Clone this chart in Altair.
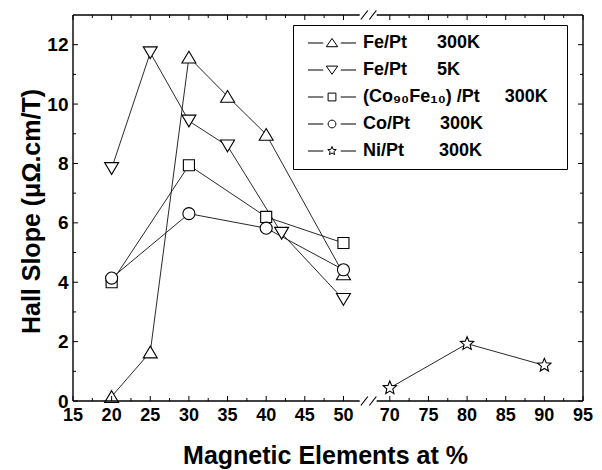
import altair as alt
import pandas as pd
import math

NB = "\u00a0"
ZW = "\u200b"
series = [
    "Fe/Pt" + NB * 6 + "300K",
    "Fe/Pt" + NB * 6 + "5K",
    "(Co₉₀Fe₁₀)" + NB + "/Pt" + NB * 5 + "300K" + NB * 2 + ZW,
    "Co/Pt" + NB * 6 + "300K",
    "Ni/Pt" + NB * 7 + "300K",
]

fept300_x = [20, 25, 30, 35, 40, 50]
fept300_y = [0.15, 1.65, 11.58, 10.26, 8.98, 4.28]
fept5_x = [20, 25, 30, 35, 42, 50]
fept5_y = [7.83, 11.73, 9.43, 8.59, 5.65, 3.42]
cofe_x = [20, 30, 40, 50]
cofe_y = [4.0, 7.94, 6.2, 5.32]
copt_x = [20, 30, 40, 50]
copt_y = [4.14, 6.31, 5.82, 4.42]
nipt_x = [70, 80, 90]
nipt_y = [0.44, 1.93, 1.2]

x_major = [15, 20, 25, 30, 35, 40, 45, 50, 70, 75, 80, 85, 90, 95]
x_minor = [17.5, 22.5, 27.5, 32.5, 37.5, 42.5, 47.5, 72.5, 77.5, 82.5, 87.5, 92.5]
y_major = [0, 2, 4, 6, 8, 10, 12]
y_minor = [1, 3, 5, 7, 9, 11]

# broken axis: values above the break are shifted left by SHIFT
SHIFT = 14
BREAK = 60
axis_segments = [(15, 52.1), (68.3, 95)]
slash_at = [52.7, 67.8]


def xp(v):
    return v - SHIFT if v >= BREAK else v


W, H = 510, 386
FONT = "Liberation Sans"

rows = []
for name, xs_, ys_ in zip(series,
                          [fept300_x, fept5_x, cofe_x, copt_x, nipt_x],
                          [fept300_y, fept5_y, cofe_y, copt_y, nipt_y]):
    for a, b in zip(xs_, ys_):
        rows.append({"series": name, "x": a, "xp": xp(a), "y": b})
df = pd.DataFrame(rows)


def star_path(R, r):
    pts = []
    for i in range(10):
        ang = -math.pi / 2 + i * math.pi / 5
        rad = R if i % 2 == 0 else r
        pts.append((rad * math.cos(ang), rad * math.sin(ang)))
    return "M" + "L".join(f"{px:.3f},{py:.3f}" for px, py in pts) + "Z"


def circle_path(r):
    return f"M{r},0A{r},{r} 0 1,1 {-r},0A{r},{r} 0 1,1 {r},0Z"


plot_shapes = [
    "M0,-0.84L1,0.84L-1,0.84Z",
    "M0,0.84L1,-0.84L-1,-0.84Z",
    "M-0.79,-0.79H0.79V0.79H-0.79Z",
    circle_path(0.86),
    star_path(1.0, 0.45),
]
dash = "M-4,0H-1.45M1.45,0H4"
legend_shapes = [
    dash + "M0,-0.75L0.95,0.62L-0.95,0.62Z",
    dash + "M0,0.72L0.95,-0.65L-0.95,-0.65Z",
    dash + "M-0.65,-0.65H0.65V0.65H-0.65Z",
    dash + circle_path(0.65),
    dash + star_path(0.75, 0.33),
]

xs = alt.Scale(domain=[15, 95 - SHIFT], nice=False, zero=False)
ys = alt.Scale(domain=[0, 13], nice=False, zero=False)

x_axis = alt.Axis(
    values=[float(xp(v)) for v in x_major], labels=False, ticks=False,
    tickSize=0, domain=False, grid=False,
    title="Magnetic Elements at %", titleFont=FONT, titleFontSize=25, titleFontWeight="bold",
    titleColor="black", titleX=252, titleY=62, titleBaseline="alphabetic", titleAlign="center",
)
y_axis = alt.Axis(
    values=y_major, ticks=False, tickSize=0, domain=False, grid=False, format="d",
    labelFont=FONT, labelFontSize=19, labelFontWeight="bold", labelColor="black",
    labelPadding=5, labelFlush=False, labelOverlap=False, title="Hall Slope (μΩ.cm/T)",
    titleFont=FONT, titleFontSize=25, titleFontWeight="bold", titleColor="black",
    titleX=-34, titleY=196, titleBaseline="alphabetic", titleAlign="center", titleAngle=270,
)


def X(field):
    return alt.X(field, scale=xs, axis=x_axis)


def Y(field):
    return alt.Y(field, scale=ys, axis=y_axis)


base = alt.Chart(df)

lines = base.mark_line(color="#111", strokeWidth=0.9).encode(
    x=X("xp:Q"), y=Y("y:Q"), detail="series:N", order="x:Q",
)

points = base.mark_point(filled=True, fill="white", stroke="black", strokeWidth=1.1,
                         size=196, opacity=1).encode(
    x=X("xp:Q"), y=Y("y:Q"),
    shape=alt.Shape("series:N", scale=alt.Scale(domain=series, range=plot_shapes), legend=None),
)

legend_layer = base.mark_point(color="black", strokeWidth=1, opacity=0).encode(
    x=X("xp:Q"), y=Y("y:Q"),
    shape=alt.Shape(
        "series:N",
        scale=alt.Scale(domain=series, range=legend_shapes),
        legend=alt.Legend(
            title=None, orient="none", legendX=220, legendY=10, strokeColor="black",
            padding=9, rowPadding=9, symbolOffset=21, labelOffset=22, symbolSize=144,
            symbolStrokeWidth=1, symbolStrokeColor="black", symbolFillColor="transparent",
            symbolOpacity=1, labelFont=FONT, labelFontSize=18, labelFontWeight="bold",
            labelColor="black", labelLimit=400,
        ),
    ),
)

# x tick labels (broken axis) placed through the x scale, one text mark per label
xlab_df = pd.DataFrame({"lx": [xp(v) + 0.0 for v in x_major],
                        "real": [float(v) for v in x_major]})
xlabels = alt.Chart(xlab_df).mark_text(
    font=FONT, fontSize=18, fontWeight="bold", color="black", baseline="alphabetic",
    align="center", opacity=1,
).encode(x=X("lx:Q"), y=alt.value(H + 20), text=alt.Text("real:Q", format="d"),
         detail="real:Q")

one = pd.DataFrame({"k": [0]})
frame_l = alt.Chart(one).mark_rule(color="black", strokeWidth=1.4).encode(
    x=alt.value(0), y=alt.value(0), y2=alt.value(H))
frame_r = alt.Chart(one).mark_rule(color="black", strokeWidth=1.4).encode(
    x=alt.value(W), y=alt.value(0), y2=alt.value(H))

seg_df = pd.DataFrame({"a": [xp(a) for a, b in axis_segments], "b": [xp(b) for a, b in axis_segments]})
seg_bottom = alt.Chart(seg_df).mark_rule(color="black", strokeWidth=1.4).encode(
    x=X("a:Q"), x2="b:Q", y=alt.value(H))
seg_top = alt.Chart(seg_df).mark_rule(color="black", strokeWidth=1.4).encode(
    x=X("a:Q"), x2="b:Q", y=alt.value(0))

slash_df = pd.DataFrame({"s": [xp(v) for v in slash_at]})
slashes = []
for yy in (H, 0):
    slashes.append(
        alt.Chart(slash_df).mark_rule(color="black", strokeWidth=1.2, xOffset=-3.5, x2Offset=3.5).encode(
            x=X("s:Q"), x2="s:Q", y=alt.value(yy + 4.5), y2=alt.value(yy - 4.5))
    )

tick_layers = []
for vals, L in ((x_major, 5), (x_minor, 3)):
    tdf = pd.DataFrame({"t": [xp(v) for v in vals]})
    tick_layers.append(alt.Chart(tdf).mark_rule(color="black", strokeWidth=1).encode(
        x=X("t:Q"), y=alt.value(H), y2=alt.value(H - L)))
    tick_layers.append(alt.Chart(tdf).mark_rule(color="black", strokeWidth=1).encode(
        x=X("t:Q"), y=alt.value(0), y2=alt.value(L)))
for vals, L in ((y_major, 5), (y_minor, 3)):
    tdf = pd.DataFrame({"t": vals})
    tick_layers.append(alt.Chart(tdf).mark_rule(color="black", strokeWidth=1).encode(
        y=Y("t:Q"), x=alt.value(0), x2=alt.value(L)))
    tick_layers.append(alt.Chart(tdf).mark_rule(color="black", strokeWidth=1).encode(
        y=Y("t:Q"), x=alt.value(W), x2=alt.value(W - L)))

chart = alt.layer(
    lines, legend_layer, points, frame_l, frame_r, seg_bottom, seg_top,
    *slashes, *tick_layers, xlabels
).resolve_scale(shape="independent").properties(
    width=W, height=H,
    autosize=alt.AutoSizeParams(type="none"),
    padding={"left": 73, "top": 15, "right": 602 - 73 - W, "bottom": 470 - 15 - H},
    background="white",
).configure_view(stroke=None)

chart.save("out.html", embed_options={"renderer": "svg", "actions": False})
